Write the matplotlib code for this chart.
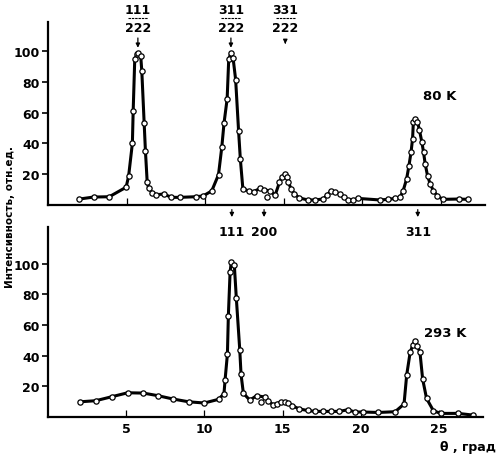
import matplotlib
matplotlib.use("Agg")
import matplotlib.pyplot as plt

plt.rcParams['font.family'] = ['Liberation Sans Narrow', 'DejaVu Sans']
plt.rcParams['font.weight'] = 'bold'

# ---- data: 80 K ----
theta_80 = [2.0, 2.9, 3.9, 4.97, 5.13, 5.37, 5.42, 5.52, 5.65, 5.75, 5.9, 5.97,
            6.12, 6.2, 6.31, 6.4, 6.63, 6.9, 7.37, 7.85, 8.4, 9.4, 9.87, 10.42,
            10.85, 11.06, 11.2, 11.4, 11.5, 11.64, 11.78, 11.94, 12.13, 12.24,
            12.4, 12.8, 13.1, 13.5, 13.75, 14.15, 14.45, 14.73, 14.88, 15.05,
            15.2, 15.3, 15.47, 15.68, 16.0, 16.54, 16.96, 17.5, 17.77, 17.99,
            18.29, 18.56, 18.82, 19.1, 19.42, 19.74, 21.12, 21.65, 22.08, 22.4,
            22.6, 22.82, 22.97, 23.1, 23.2, 23.25, 23.38, 23.51, 23.64, 23.79,
            23.9, 24.0, 24.15, 24.32, 24.53, 24.77, 25.11, 26.13, 26.73]
int_80 = [3.6, 4.9, 5.1, 11.3, 18.5, 40, 61, 94.7, 98, 99, 97, 87,
          53, 35, 15, 10.8, 7.7, 6.4, 6.9, 4.7, 4.7, 5.1, 5.6, 8.9,
          19.5, 37.5, 53, 69, 94.7, 99, 95.4, 81.6, 47.7, 29.6,
          10.4, 8.7, 8.5, 10.6, 9.6, 8.8, 6.0, 14.5, 17.8, 20,
          18.2, 14.5, 10.2, 6.9, 4.3, 3.0, 3.0, 3.6, 6.2, 9.0,
          8.0, 6.9, 4.7, 3.0, 3.1, 4.0, 3.0, 3.4, 4.0, 4.7,
          9.0, 16.7, 25.4, 34, 43, 54, 56, 54, 48.4, 40.8,
          34, 26.6, 18.9, 13.4, 9.0, 5.8, 3.4, 3.6, 3.4]
stray_theta_80 = [13.94]
stray_int_80 = [4.9]

# ---- data: 293 K ----
theta_293 = [2.05, 3.05, 4.07, 5.09, 6.1, 7.03, 8.0, 8.99, 9.99, 10.9, 11.25,
             11.32, 11.47, 11.53, 11.64, 11.72, 11.91, 12.04, 12.26, 12.34,
             12.49, 12.9, 13.34, 13.87, 14.09, 14.37, 14.62, 14.9, 15.15,
             15.37, 15.62, 16.07, 16.6, 17.07, 17.56, 18.1, 18.63, 19.16,
             19.63, 20.12, 21.12, 22.19, 22.76, 22.93, 23.15, 23.32, 23.47,
             23.61, 23.78, 23.95, 24.2, 24.64, 25.11, 26.23, 27.15]
int_293 = [9.7, 10.4, 13, 15.6, 15.4, 13.7, 11.5, 9.7, 8.9, 11.3, 15,
           24, 41, 66, 94.5, 101.5, 99.5, 77.5, 43.6, 27.7,
           15.3, 10.8, 13.7, 12.8, 10.4, 7.8, 8.4, 9.7, 9.7,
           8.9, 7.1, 5.0, 4.0, 3.4, 3.4, 3.4, 3.4, 4.5,
           3.0, 3.0, 2.7, 3.2, 8.2, 27.2, 42, 46.9, 49.7,
           46.4, 42, 24.6, 11.9, 3.8, 2.1, 2.1, 1.0]
stray_theta_293 = [13.62]
stray_int_293 = [9.3]

yticks = [20, 40, 60, 80, 100]
xticks = [5, 10, 15, 20, 25]

FS = 9
fig = plt.figure(figsize=(5.01, 4.64), dpi=100)
ax2 = fig.add_axes([0.0958, 0.100, 0.868, 0.408])
ax1 = fig.add_axes([0.0958, 0.557, 0.872, 0.393])
ax1.patch.set_visible(False)
ax2.patch.set_visible(False)
ax1.set_zorder(3)

line_kw = dict(color='black', lw=2.2, marker='o', markersize=3.8,
               markerfacecolor='white', markeredgecolor='black', markeredgewidth=0.9)
stray_kw = dict(ls='none', marker='o', markersize=3.8,
                markerfacecolor='white', markeredgecolor='black', markeredgewidth=0.9)

ax1.plot(theta_80, int_80, **line_kw)
ax1.plot(stray_theta_80, stray_int_80, **stray_kw)
ax2.plot(theta_293, int_293, **line_kw)
ax2.plot(stray_theta_293, stray_int_293, **stray_kw)

for ax, ytop in ((ax1, 119), (ax2, 124)):
    ax.set_xlim(0, 27.8)
    ax.set_ylim(0, ytop)
    ax.spines['top'].set_visible(False)
    ax.spines['right'].set_visible(False)
    ax.spines['left'].set_linewidth(1.6)
    ax.spines['bottom'].set_linewidth(1.6)
    ax.set_yticks(yticks)
    ax.set_xticks(xticks)
    ax.tick_params(axis='y', direction='out', length=4, width=1.2, labelsize=FS, pad=2)
    ax.tick_params(axis='x', direction='in', length=5, width=0.9, labelsize=FS, pad=4)
    for lab in ax.get_yticklabels() + ax.get_xticklabels():
        lab.set_fontweight('bold')

ax1.tick_params(axis='x', labelbottom=False)

# fraction labels above top panel
fracs = [("111", 5.72, 110.5, 100.5), ("311", 11.64, 110.5, 100.5), ("331", 15.1, 107.5, 103)]
for top, x, y0, y1 in fracs:
    ax1.text(x, 127, top, ha='center', va='center', fontsize=FS, clip_on=False)
    ax1.text(x, 115.5, "222", ha='center', va='center', fontsize=FS, clip_on=False)
    ax1.plot([x - 0.62, x + 0.62], [121.5, 121.5], color='black', lw=0.8,
             ls=(0, (2.2, 0.8)), clip_on=False)
    ax1.annotate('', xy=(x, y1), xytext=(x, y0),
                 arrowprops=dict(arrowstyle='-|>', color='black', lw=0.9,
                                 mutation_scale=6), annotation_clip=False)

# labels below top panel
below = [("111", 11.7), ("200", 13.75), ("311", 23.53)]
for lab, x in below:
    ax1.annotate('', xy=(x, -10), xytext=(x, -1.5),
                 arrowprops=dict(arrowstyle='-|>', color='black', lw=0.9,
                                 mutation_scale=6), annotation_clip=False)
    ax1.text(x, -17.5, lab, ha='center', va='center', fontsize=FS, clip_on=False)

ax1.text(24.9, 71, "80 K", ha='center', va='center', fontsize=FS + 0.5)
ax2.text(25.4, 55.4, "293 K", ha='center', va='center', fontsize=FS + 0.5)

fig.text(0.020, 0.532, "Интенсивность, отн.ед.", rotation=90, ha='center', va='center',
         fontsize=7.5)
fig.text(0.935, 0.035, "θ , град", ha='center', va='center', fontsize=FS)

fig.savefig("out.png", dpi=100)
